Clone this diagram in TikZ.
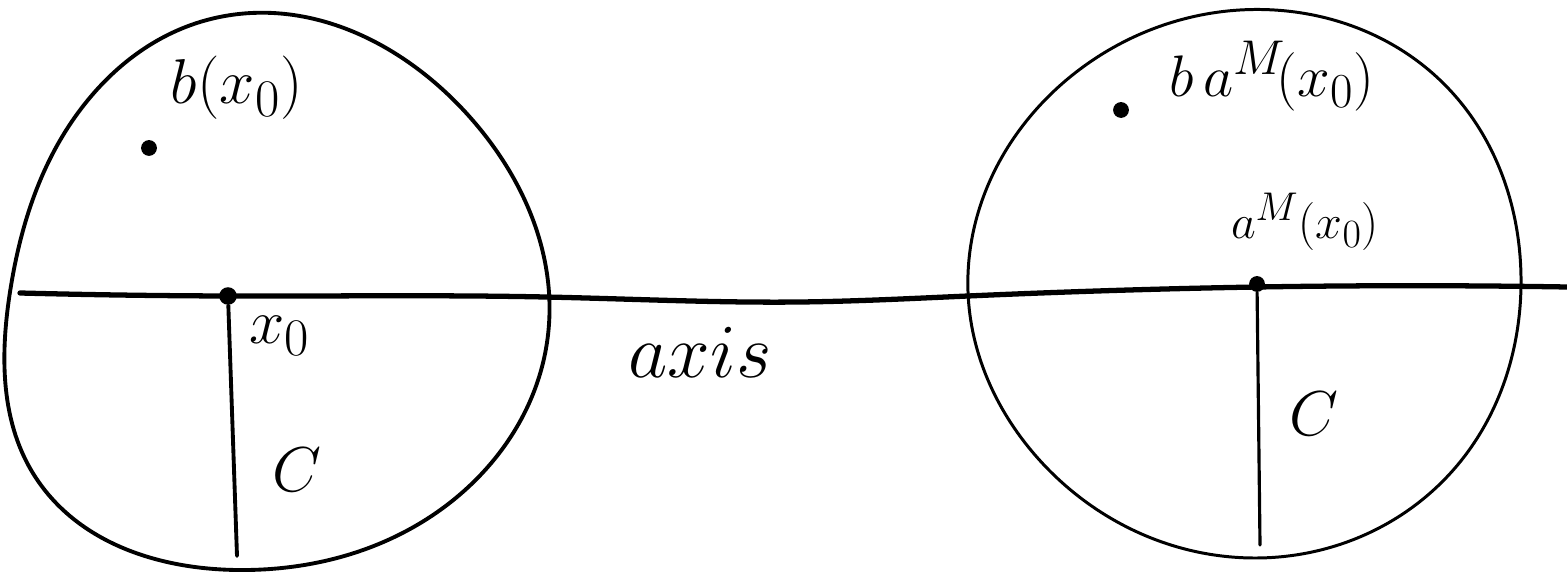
\documentclass[tikz,border=0pt]{standalone}
\usepackage{amsmath}
\usetikzlibrary{hobby}

\tikzset{every picture/.style={line width=0.75pt}}
\tikzset{
  blob/.style={line width=2.2pt, line join=round},
  thinblob/.style={line width=1.7pt, line join=round},
  axisline/.style={line width=3pt, line cap=round},
  radius line/.style={line width=2.2pt, line cap=round},
  lbl/.style={font=\Huge, inner sep=0pt},
  biglbl/.style={lbl, scale=1.45},
  pt/.style={circle, fill=black, inner sep=0pt, minimum size=9pt}
}

\begin{document}
\begin{tikzpicture}[x=0.02cm, y=-0.02cm, use Hobby shortcut]
        \useasboundingbox (0,0) rectangle (1567,573);
        % left ball
        \draw[blob, closed=true] (10,292) .. (36,478) .. (237,570) .. (430,517) .. (548,335) .. (468,115) .. (215,18) .. (52,155);
        % right ball
        \draw[thinblob, closed=true] (968,292) .. (1035,455) .. (1257,558) .. (1455,468) .. (1521,285) .. (1445,85) .. (1295,12) .. (1090,62);
        % the axis
        \coordinate (axL) at (20,293);
        \coordinate (axR) at (1567,287);
        \draw[axisline] (axL) .. (228,296) .. (545,297) .. (800,302) .. (968,296) .. (1258,287) .. (axR);
        \node[lbl, scale=1.75] (axis) at (700,352) {$axis$};
        % x_0 and its radius
        \node[pt, minimum size=10pt] (x0) at (228,296) {};
        \coordinate (x0end) at (237,556);
        \draw[radius line] (x0) -- (x0end);
        \node[biglbl] (x0lbl) at (280,336) {$x_0$};
        \node[biglbl] (CL) at (297,470) {$C$};
        \node[pt] (bx) at (149,148) {};
        \node[biglbl] (bxlbl) at (237,88) {$b(x_0)$};
        % a^M(x_0) and its radius
        \node[pt] (ax0) at (1257,284) {};
        \coordinate (ax0end) at (1260,545);
        \draw[radius line, line width=1.8pt] (ax0) -- (ax0end);
        \node[lbl, scale=1.1] (ax0lbl) at (1305,222) {$a^{M}(x_0)$};
        \node[biglbl] (CR) at (1314,414) {$C$};
        \node[pt] (bax) at (1121,110) {};
        \node[lbl, scale=1.34] (baxlbl) at (1272,76) {$b\,a^{M}\!(x_0)$};
    \end{tikzpicture}
\end{document}
